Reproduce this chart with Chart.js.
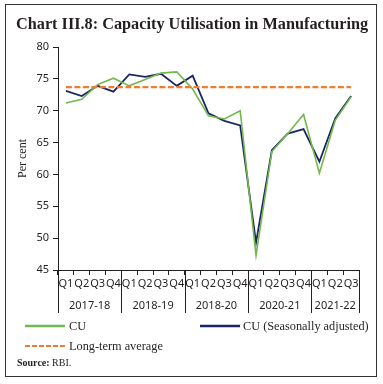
<!DOCTYPE html>
<html><head><meta charset="utf-8">
<script src="https://cdn.jsdelivr.net/npm/chart.js@4.4.0/dist/chart.umd.min.js"></script>
<style>
html,body{margin:0;padding:0;background:#fff;}
#wrap{position:relative;width:383px;height:384px;overflow:hidden;background:#fff;}
#frame{position:absolute;left:5px;top:4px;width:370px;height:371px;border:1.6px solid #333;}
#c{position:absolute;left:0;top:0;}
.t{position:absolute;white-space:nowrap;color:#231f20;}
#title{left:16px;top:14px;font:bold 16.25px "Liberation Serif",serif;line-height:20px;}
.lg{font:12.3px "Liberation Serif",serif;line-height:16px;}
#src{left:17px;top:356px;font:10px "Liberation Serif",serif;line-height:14px;}
svg{position:absolute;}
</style></head>
<body><div id="wrap">
<div id="frame"></div>
<canvas id="c" width="383" height="384"></canvas>
<div class="t" id="title">Chart III.8: Capacity Utilisation in Manufacturing</div>
<svg style="left:25px;top:323px" width="42" height="6"><line x1="0" y1="3" x2="40" y2="3" stroke="#72B84C" stroke-width="2.4"/></svg>
<div class="t lg" style="left:69px;top:318px">CU</div>
<svg style="left:200px;top:323px" width="42" height="6"><line x1="0" y1="3" x2="40" y2="3" stroke="#1C2563" stroke-width="2.4"/></svg>
<div class="t lg" style="left:243px;top:318px">CU (Seasonally adjusted)</div>
<svg style="left:25px;top:343px" width="42" height="6"><line x1="0" y1="3" x2="40" y2="3" stroke="#EE7D30" stroke-width="2.2" stroke-dasharray="5,2"/></svg>
<div class="t lg" style="left:69px;top:338px">Long-term average</div>
<div class="t" id="src"><b>Source:</b> RBI.</div>
</div>
<script>
const quarterLabels = ['Q1','Q2','Q3','Q4','Q1','Q2','Q3','Q4','Q1','Q2','Q3','Q4','Q1','Q2','Q3','Q4','Q1','Q2','Q3'];
const fiscalYears = ['2017-18','2018-19','2018-20','2020-21','2021-22'];
const quartersPerYear = [4,4,4,4,3];
const cu =   [71.2,71.8,74.1,75.1,73.9,74.9,75.9,76.1,73.4,69.2,68.7,70.0,47.3,63.6,66.4,69.4,60.2,68.5,72.2];
const cuSA = [73.1,72.3,73.9,73.0,75.7,75.3,75.8,73.9,75.5,69.6,68.4,67.7,49.3,63.8,66.4,67.1,62.0,68.8,72.3];
const longTermAvg = [73.7,73.7,73.7,73.7,73.7,73.7,73.7,73.7,73.7,73.7,73.7,73.7,73.7,73.7,73.7,73.7,73.7,73.7,73.7];
const yTicks = {min:45,max:80,step:5};

const ink = '#231f20';
const groupPlugin = {
  id:'groups',
  afterDraw(chart){
    const x = chart.scales.x, ctx = chart.ctx, bottom = chart.chartArea.bottom;
    const half = (x.getPixelForValue(1)-x.getPixelForValue(0))/2;
    const edges = [x.getPixelForValue(0)-half];
    let idx = 0;
    quartersPerYear.forEach(n=>{ idx += n; edges.push(x.getPixelForValue(idx-1)+half); });
    ctx.save();
    ctx.strokeStyle = ink; ctx.lineWidth = 1;
    edges.forEach(e=>{
      const px = Math.round(e)+0.5;
      ctx.beginPath(); ctx.moveTo(px,bottom); ctx.lineTo(px,bottom+43); ctx.stroke();
    });
    ctx.font = '11px "Noto Sans"'; ctx.fillStyle = ink;
    ctx.textAlign = 'center'; ctx.textBaseline = 'middle';
    fiscalYears.forEach((y,i)=>ctx.fillText(y,(edges[i]+edges[i+1])/2,bottom+36));
    ctx.restore();
  }
};

new Chart(document.getElementById('c'), {
  type:'line',
  data:{
    labels: quarterLabels,
    datasets:[
      {label:'Long-term average', data:longTermAvg, borderColor:'#EE7D30', borderWidth:2.2, borderDash:[6,2.5], pointRadius:0, fill:false},
      {label:'CU', data:cu, borderColor:'#72B84C', borderWidth:1.6, pointRadius:0, tension:0, fill:false},
      {label:'CU (Seasonally adjusted)', data:cuSA, borderColor:'#1C2563', borderWidth:1.8, pointRadius:0, tension:0, fill:false}
    ]
  },
  options:{
    responsive:false, animation:false, devicePixelRatio:1,
    layout:{padding:{left:12,top:47,right:24,bottom:94}},
    plugins:{legend:{display:false}, tooltip:{enabled:false}},
    scales:{
      x:{
        type:'category', offset:true,
        grid:{offset:true, drawOnChartArea:false, drawTicks:true, tickLength:5, color:ink},
        border:{display:true, color:ink, width:1},
        ticks:{color:ink, font:{family:'"Noto Sans"', size:11}, padding:2, maxRotation:0, autoSkip:false},
        afterFit(s){ s.height = 20; }
      },
      y:{
        min:yTicks.min, max:yTicks.max,
        grid:{drawOnChartArea:false, drawTicks:true, tickLength:5, color:ink},
        border:{display:true, color:ink, width:1},
        ticks:{stepSize:yTicks.step, color:ink, font:{family:'"Noto Sans"', size:11}, padding:4},
        title:{display:true, text:'Per cent', color:ink, font:{family:'"Liberation Serif"', size:12}, padding:{top:4,bottom:0}},
        afterFit(s){ s.width = 46; }
      }
    }
  },
  plugins:[groupPlugin]
});
</script>
</body></html>
